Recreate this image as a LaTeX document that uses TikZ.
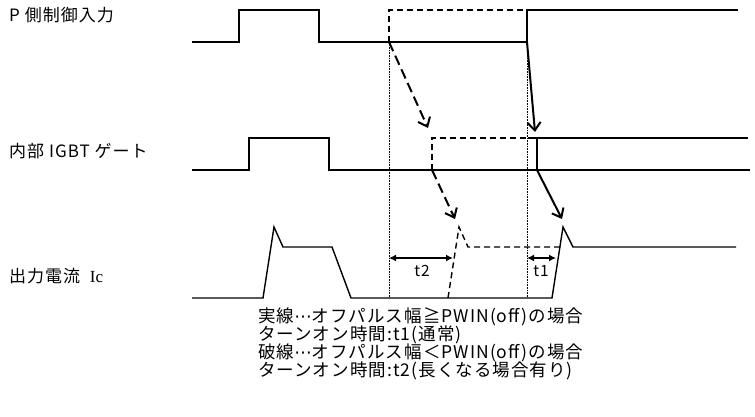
\documentclass[tikz,border=0pt]{standalone}
\usepackage{fontspec}
\setmainfont[LetterSpace=6]{Noto Sans CJK JP}
\newfontfamily\icfont{Liberation Serif}
\newfontfamily\dotsfont{DejaVu Sans}
\newcommand{\fwdots}{{\dotsfont ⋯}}
\usetikzlibrary{arrows.meta}

\begin{document}
\begin{tikzpicture}[x=1pt, y=-1pt,
    wave/.style={line width=1.4pt},
    dwave/.style={line width=1.4pt, dash pattern=on 6pt off 4pt},
    guide/.style={line width=0.6pt, densely dotted},
    cause/.style={line width=2pt, -{Straight Barb[length=8pt,width=13pt,line width=2pt]}},
    dcause/.style={cause, dash pattern=on 10pt off 5pt},
    span/.style={line width=1.6pt, {Latex[length=7pt,width=7pt]}-{Latex[length=7pt,width=7pt]}},
    lbl/.style={anchor=west, inner sep=0pt, font=\fontsize{17}{17}\selectfont},
    tlbl/.style={inner sep=0pt, font=\fontsize{15.5}{15.5}\selectfont},
    ]
        \useasboundingbox (0,0) rectangle (755,417);

        % P side control input
        \draw[wave] (192,42) -- (239,42) -- (239,10) -- (319,10) -- (319,42) -- (527,42) -- (527,10) -- (738,10);
        \draw[dwave] (389,42) -- (389,10) -- (527,10);

        % internal IGBT gate
        \draw[wave] (192,170) -- (249,170) -- (249,138) -- (329,138) -- (329,170) -- (750,170);
        \draw[dwave] (432,170) -- (432,138) -- (527,138);
        \draw[wave] (528,138) -- (748,138);
        \draw[wave] (537,138) -- (537,170);

        % output current
        \draw[wave] (192,298) -- (263,298) -- (274,227) -- (283,247) -- (332,247) -- (351,298)
            -- (552,298) -- (563,227) -- (573,247) -- (736,247);
        \draw[dwave] (448,298) -- (459,227) -- (468,247) -- (560,247);

        \coordinate (offD) at (389,42);
        \coordinate (offS) at (527,42);
        \coordinate (gateD) at (432,170);
        \coordinate (gateS) at (537,170);
        \coordinate (hitD1) at (428,128);
        \coordinate (hitS1) at (535,132);
        \coordinate (hitD2) at (455,219);
        \coordinate (hitS2) at (562,219);
        \coordinate (baseD) at (389,298);
        \coordinate (baseS) at (527,298);
        \coordinate (t2a) at (389,258);
        \coordinate (t2b) at (453,258);
        \coordinate (t1a) at (527,258);
        \coordinate (t1b) at (556,258);

        \draw[guide] (offD) -- (baseD);
        \draw[guide] (offS) -- (baseS);

        \draw[dcause] (offD) -- (hitD1);
        \draw[cause] (offS) -- (hitS1);
        \draw[dcause] (gateD) -- (hitD2);
        \draw[cause] (gateS) -- (hitS2);

        \draw[span] (t2a) -- (t2b);
        \draw[span] (t1a) -- (t1b);
        \node[tlbl] (t2) at (422,271) {t2};
        \node[tlbl] (t1) at (541,271) {t1};

        \node[lbl] (pin) at (9,15) {P 側制御入力};
        \node[lbl] (gate) at (9,151) {内部 IGBT ゲート};
        \node[lbl] (ic) at (9,276) {出力電流~~{\icfont Ic}};

        \node[anchor=north west, align=left, inner sep=0pt, font=\fontsize{17.5}{18.2}\selectfont] (note) at (258,307)
            {実線\fwdots オフパルス幅≧PWIN(off)の場合\\
             ターンオン時間:t1(通常)\\
             破線\fwdots オフパルス幅＜PWIN(off)の場合\\
             ターンオン時間:t2(長くなる場合有り)};
\end{tikzpicture}
\end{document}
